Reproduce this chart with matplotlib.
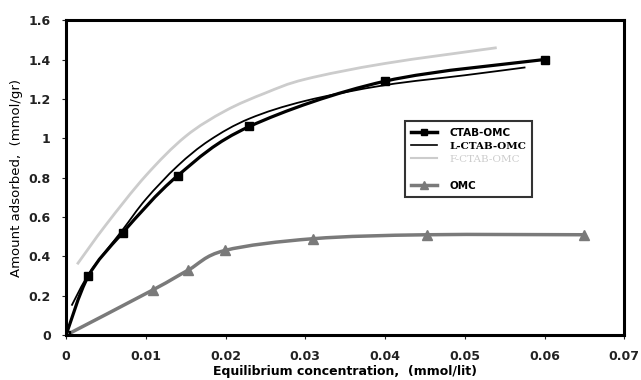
import matplotlib
matplotlib.use("Agg")
import matplotlib.pyplot as plt
from matplotlib.lines import Line2D
from matplotlib.path import Path
from matplotlib.patches import PathPatch

# Data
ctab_x = [0.0, 0.0028, 0.0071, 0.0140, 0.0230, 0.0400, 0.0600]
ctab_y = [0.0, 0.30, 0.52, 0.81, 1.06, 1.29, 1.40]

l_x = [0.0007, 0.003, 0.007, 0.010, 0.014, 0.018, 0.023, 0.030, 0.040, 0.050, 0.0576]
l_y = [0.15, 0.32, 0.53, 0.69, 0.86, 0.99, 1.10, 1.19, 1.27, 1.32, 1.36]

f_x = [0.0014, 0.005, 0.010, 0.015, 0.020, 0.025, 0.030, 0.040, 0.054]
f_y = [0.36, 0.56, 0.81, 1.01, 1.14, 1.23, 1.30, 1.38, 1.46]

omc_x = [0.0, 0.0109, 0.0153, 0.0199, 0.0310, 0.0453, 0.0649]
omc_y = [0.0, 0.23, 0.33, 0.43, 0.49, 0.51, 0.51]

xticks = [0, 0.01, 0.02, 0.03, 0.04, 0.05, 0.06, 0.07]
xticklabels = ["0", "0.01", "0.02", "0.03", "0.04", "0.05", "0.06", "0.07"]
yticks = [0, 0.2, 0.4, 0.6, 0.8, 1.0, 1.2, 1.4, 1.6]
yticklabels = ["0", "0.2", "0.4", "0.6", "0.8", "1", "1.2", "1.4", "1.6"]

fig = plt.figure(figsize=(6.41, 3.80), dpi=100)
ax = fig.add_axes([0.103, 0.118, 0.871, 0.829])
ax.set_xlim(0, 0.07)
ax.set_ylim(0, 1.6)


def smooth_path(xs, ys, t=1/6):
    """Excel-like smoothed line: cubic Bezier through the data points."""
    pts = list(zip(xs, ys))
    verts = [pts[0]]
    codes = [Path.MOVETO]
    n = len(pts)
    for i in range(n - 1):
        p0 = pts[i - 1] if i > 0 else pts[i]
        p1 = pts[i]
        p2 = pts[i + 1]
        p3 = pts[i + 2] if i + 2 < n else pts[i + 1]
        c1 = (p1[0] + (p2[0] - p0[0]) * t, p1[1] + (p2[1] - p0[1]) * t)
        c2 = (p2[0] - (p3[0] - p1[0]) * t, p2[1] - (p3[1] - p1[1]) * t)
        verts += [c1, c2, p2]
        codes += [Path.CURVE4] * 3
    return Path(verts, codes)


def draw(xs, ys, color, lw, marker=None, ms=0, z=2):
    ax.add_patch(PathPatch(smooth_path(xs, ys), facecolor="none", edgecolor=color,
                           lw=lw, zorder=z, capstyle="butt"))
    if marker:
        ax.plot(xs, ys, ls="none", marker=marker, markersize=ms, color=color, zorder=z + 0.5)


draw(f_x, f_y, "#cccccc", 2.0)
draw(l_x, l_y, "black", 1.3)
draw(ctab_x, ctab_y, "black", 2.3, marker="s", ms=5.5)
draw(omc_x, omc_y, "#7a7a7a", 2.5, marker="^", ms=6.5)

ax.set_xticks(xticks)
ax.set_xticklabels(xticklabels, fontweight="bold", fontsize=9, color="#222222")
ax.set_yticks(yticks)
ax.set_yticklabels(yticklabels, fontweight="bold", fontsize=9, color="#222222")
ax.tick_params(direction="out", length=3, width=0.8, colors="#222222", pad=8)
for s in ax.spines.values():
    s.set_linewidth(2.2)
    s.set_color("black")

ax.set_xlabel("Equilibrium concentration,  (mmol/lit)", fontweight="bold", fontsize=9, labelpad=1)
ax.set_ylabel("Amount adsorbed,  (mmol/gr)", fontsize=9.5, labelpad=4)

handles = [
    Line2D([], [], color="black", lw=2.5, marker="s", markersize=5),
    Line2D([], [], color="black", lw=1.2),
    Line2D([], [], color="#cccccc", lw=1.5),
    Line2D([], [], color="none"),
    Line2D([], [], color="#7a7a7a", lw=2.5, marker="^", markersize=6),
]
labels = ["CTAB-OMC", "L-CTAB-OMC", "F-CTAB-OMC", "", "OMC"]
leg = ax.legend(handles, labels, loc="upper left", bbox_to_anchor=(0.597, 0.695),
                frameon=True, fancybox=False, edgecolor="black", fontsize=7.5,
                handlelength=2.5, labelspacing=0.35, borderpad=0.6, handletextpad=1.2)
leg.get_frame().set_linewidth(1.5)
texts = leg.get_texts()
texts[0].set_fontweight("bold")
texts[1].set_fontfamily("DejaVu Serif"); texts[1].set_fontweight("bold")
texts[2].set_fontfamily("DejaVu Serif"); texts[2].set_color("#cccccc")
texts[4].set_fontweight("bold")

fig.savefig("out.png", dpi=100)
